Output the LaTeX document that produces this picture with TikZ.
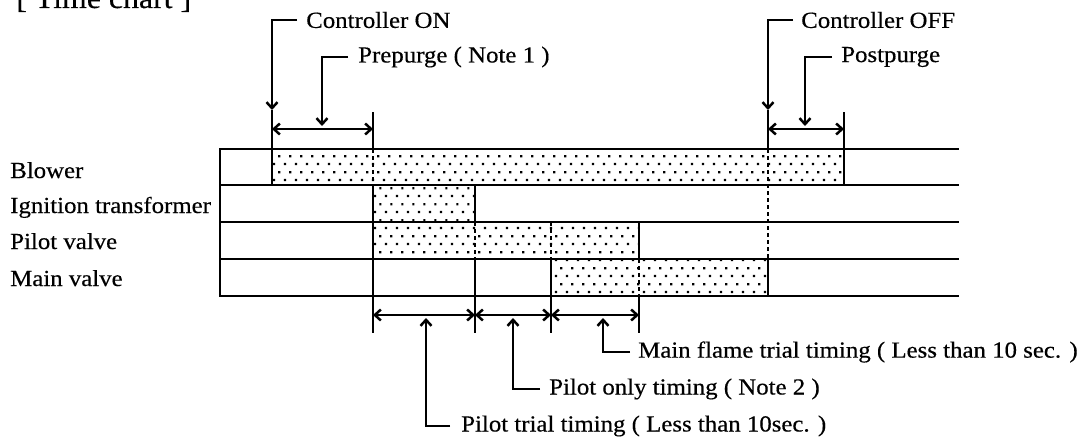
\documentclass[tikz,border=0pt]{standalone}
\usepackage{fontspec}
\setmainfont[FakeStretch=1.08,FakeBold=0.4]{Liberation Serif}
\usetikzlibrary{arrows.meta,patterns.meta}
\pgfdeclarepattern{
  name=stipple,
  type=uncolored,
  bottom left={\pgfpoint{0pt}{0pt}},
  top right={\pgfpoint{11.3pt}{16pt}},
  tile size={\pgfpoint{11.3pt}{16pt}},
  code={
    \pgfpathrectangle{\pgfpoint{2pt}{2pt}}{\pgfpoint{2.3pt}{2.3pt}}
    \pgfpathrectangle{\pgfpoint{7.65pt}{10pt}}{\pgfpoint{2.3pt}{2.3pt}}
    \pgfusepath{fill}
  }
}
\begin{document}
\begin{tikzpicture}[x=1pt,y=-1pt,line width=2.5pt,
  lbl/.style={font=\fontsize{23}{26}\selectfont,inner sep=0pt},
  ttl/.style={font=\fontsize{29.5}{32}\selectfont,inner sep=0pt},
  ptr/.style={-{Straight Barb[length=6pt,width=11pt]}},
  dim/.style={{Straight Barb[length=6pt,width=11pt]}-{Straight Barb[length=6pt,width=11pt]}},
  dsh/.style={dash pattern=on 4pt off 3pt},
  stip/.style={pattern=stipple,pattern color=black}]
\useasboundingbox (0,0) rectangle (1084,439);
\fill[white] (0,0) rectangle (1084,439);

% title
\node[ttl,anchor=base west] (title) at (15,8) {[ Time chart ]};

% row labels
\node[lbl,anchor=base west] (lblower) at (9,178) {Blower};
\node[lbl,anchor=base west] (lign) at (9,213) {Ignition transformer};
\node[lbl,anchor=base west] (lpilot) at (9,249) {Pilot valve};
\node[lbl,anchor=base west] (lmain) at (9,286) {Main valve};

% stippled active periods
\fill[stip] (272,149) rectangle (844,185);
\fill[stip] (373,185) rectangle (475,222);
\fill[stip] (373,222) rectangle (639,259);
\fill[stip] (551,259) rectangle (768,296);

% row grid
\foreach \y in {149,185,222,259,296} \draw (220,\y) -- (959,\y);
\draw (220,148) -- (220,297);

% solid verticals
\draw (272,149) -- (272,185);
\draw (844,149) -- (844,185);
\draw (373,185) -- (373,296);
\draw (475,185) -- (475,222);
\draw (475,259) -- (475,296);
\draw (551,259) -- (551,296);
\draw (639,222) -- (639,259);
\draw (768,259) -- (768,296);

% dashed verticals
\draw[dsh] (373,149) -- (373,185);
\draw[dsh] (768,149) -- (768,259);
\draw[dsh] (475,222) -- (475,259);
\draw[dsh] (551,222) -- (551,259);
\draw[dsh] (639,259) -- (639,296);

% extension lines
\draw (272,110) -- (272,149);
\draw (373,112) -- (373,149);
\draw (768,110) -- (768,149);
\draw (844,112) -- (844,149);
\foreach \x in {373,475,551,639} \draw (\x,296) -- (\x,333);

% dimension arrows
\coordinate (d1) at (272,129); \coordinate (d2) at (373,129);
\coordinate (d3) at (768,129); \coordinate (d4) at (844,129);
\coordinate (e1) at (373,315); \coordinate (e2) at (475,315);
\coordinate (e3) at (551,315); \coordinate (e4) at (639,315);
\draw[dim] (d1) -- (d2);
\draw[dim] (d3) -- (d4);
\draw[dim] (e1) -- (e2);
\draw[dim] (e2) -- (e3);
\draw[dim] (e3) -- (e4);

% top labels and pointers
\node[lbl,anchor=west] (con) at (305,20) {Controller ON};
\node[lbl,anchor=west] (pre) at (357,57) {Prepurge ( Note 1 )};
\node[lbl,anchor=west] (coff) at (800,20) {Controller OFF};
\node[lbl,anchor=west] (post) at (840,57) {Postpurge};
\coordinate (conT) at (272,110);
\coordinate (preT) at (322,126);
\coordinate (coffT) at (768,110);
\coordinate (postT) at (805,126);
\draw[ptr] ([xshift=-8pt]con.west) -| (conT);
\draw[ptr] ([xshift=-9pt]pre.west) -| (preT);
\draw[ptr] ([xshift=-7pt]coff.west) -| (coffT);
\draw[ptr] ([xshift=-8pt]post.west) -| (postT);

% bottom labels and pointers
\node[lbl,anchor=west] (mft) at (637,352) {Main flame trial timing ( Less than 10 sec. )};
\node[lbl,anchor=west] (pot) at (548,389) {Pilot only timing ( Note 2 )};
\node[lbl,anchor=west] (ptt) at (460,426) {Pilot trial timing ( Less than 10sec. )};
\coordinate (mftT) at (603,318);
\coordinate (potT) at (513,318);
\coordinate (pttT) at (426,318);
\draw[ptr] ([xshift=-7pt]mft.west) -| (mftT);
\draw[ptr] ([xshift=-8pt]pot.west) -| (potT);
\draw[ptr] ([xshift=-10pt]ptt.west) -| (pttT);
\end{tikzpicture}
\end{document}
